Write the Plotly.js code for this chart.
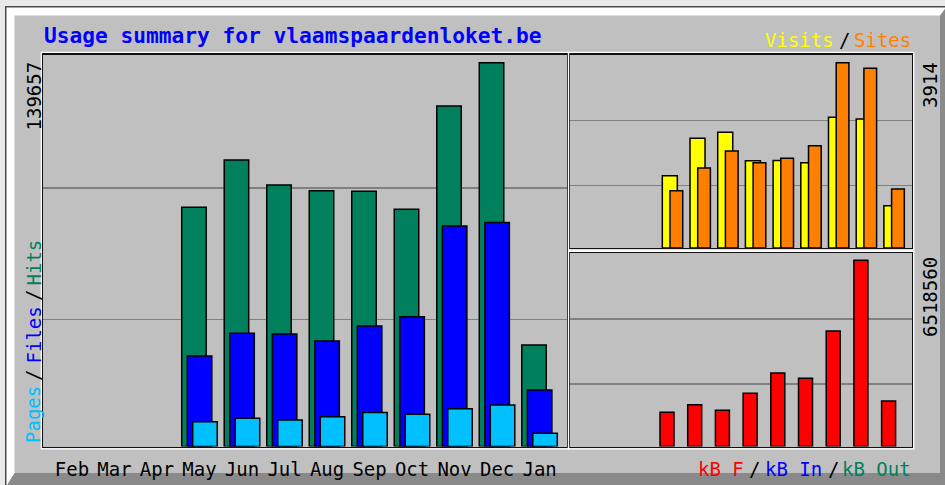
<!DOCTYPE html>
<html><head><meta charset="utf-8">
<script src="https://cdn.plot.ly/plotly-3.0.1.min.js"></script>
<style>html,body{margin:0;padding:0;background:#e9e9e9;overflow:hidden} #chart{width:945px;height:485px;}</style>
</head><body><div id="chart"></div>
<script>
// ---- data ----
const months = ['Feb','Mar','Apr','May','Jun','Jul','Aug','Sep','Oct','Nov','Dec','Jan'];
const hits   = [0,0,0,87040,104260,95160,93090,92850,86320,123910,139657,36940];
const files  = [0,0,0,32930,41190,40980,38390,43850,47230,80240,81510,20560];
const pages  = [0,0,0,9020,10260,9640,10840,12370,11720,13760,15100,4800];
const visits = [0,0,0,1527,2317,2444,1844,1850,1802,2760,2725,893];
const sites  = [0,0,0,1210,1690,2049,1802,1894,2161,3914,3795,1246];
const kbytes = [0,0,0,1195000,1461000,1265000,1859000,2569000,2384000,4037000,6518560,1590000];
const titleText = 'Usage summary for vlaamspaardenloket.be';

// ---- layout helpers ----
const W = 945, H = 485;
const px = x => x / W;
const py = y => 1 - y / H;
const FONT = 'DejaVu Sans Mono';
const C = {hits:'#00805c', files:'#0000ff', pages:'#00c0ff', visits:'#ffff00', sites:'#ff8000', kb:'#ff0000'};
const nz = arr => arr.map(v => v === 0 ? null : v);   // empty months draw no bar

const maxHits = Math.max(...hits), maxSites = Math.max(...sites, ...visits), maxKb = Math.max(...kbytes);
const R1 = maxHits * 1.0214, R2 = maxSites * 1.0442, R3 = maxKb * 1.0375;
const grid = R => [R * 0.324, R * 0.66];

const line = {color:'#000', width:1.5};
const traces = [
  {type:'bar', x:months, y:nz(hits),  xaxis:'x', yaxis:'y', width:0.576, offset:-0.419, marker:{color:C.hits, line}},
  {type:'bar', x:months, y:nz(files), xaxis:'x', yaxis:'y', width:0.576, offset:-0.287, marker:{color:C.files, line}},
  {type:'bar', x:months, y:nz(pages), xaxis:'x', yaxis:'y', width:0.576, offset:-0.160, marker:{color:C.pages, line}},
  {type:'bar', x:months, y:nz(visits), xaxis:'x2', yaxis:'y2', width:0.542, offset:-0.368, marker:{color:C.visits, line}},
  {type:'bar', x:months, y:nz(sites),  xaxis:'x2', yaxis:'y2', width:0.458, offset:-0.090, marker:{color:C.sites, line}},
  {type:'bar', x:months, y:nz(kbytes), xaxis:'x3', yaxis:'y3', width:0.505, offset:-0.451, marker:{color:C.kb, line}}
];

const xBase = {type:'category', showgrid:false, zeroline:false, ticks:'', showline:true, mirror:true, linecolor:'#111', linewidth:1.4, fixedrange:true};
const yBase = {showgrid:true, gridcolor:'#808080', gridwidth:1.5, zeroline:false, ticks:'', showticklabels:false, showline:true, mirror:true, linecolor:'#111', linewidth:1.4, fixedrange:true};

const ann = (text, x, y, color, opts) => Object.assign({text, x:px(x), y:py(y), xref:'paper', yref:'paper', showarrow:false, xanchor:'center', yanchor:'middle', font:{family:FONT, size:19, color}}, opts || {});

const annotations = [
  ann(titleText, 42, 36, '#0000ff', {xanchor:'left', font:{family:FONT, size:21.2, color:'#0000ff', weight:'bold'}}),
  ann('Visits', 799.5, 39.5, C.visits),
  ann('/', 844, 39.5, '#000'),
  ann('Sites', 882.5, 39.5, C.sites),
  ann('kB F', 720.5, 468.5, C.kb),
  ann('/', 754, 468.5, '#000'),
  ann('kB In', 793.5, 468.5, C.files),
  ann('/', 833.5, 468.5, '#000'),
  ann('kB Out', 876.5, 468.5, C.hits),
  ann(String(maxHits), 33, 60, '#000', {yanchor:'top', textangle:-90}),
  ann('Pages', 33, 415, C.pages, {textangle:-90}),
  ann('/', 33, 376, '#000', {textangle:-90}),
  ann('Files', 33, 335.5, C.files, {textangle:-90}),
  ann('/', 33, 296, '#000', {textangle:-90}),
  ann('Hits', 33, 262.5, C.hits, {textangle:-90}),
  ann(String(maxSites), 930, 60, '#000', {yanchor:'top', textangle:-90}),
  ann(String(maxKb), 930, 255, '#000', {yanchor:'top', textangle:-90})
];

const rect = (x0, y0, x1, y1, o) => Object.assign({type:'rect', xref:'paper', yref:'paper', x0:px(x0), x1:px(x1), y0:py(y1), y1:py(y0), layer:'below', line:{width:0}}, o);
const P = (x, y) => px(x) + ',' + py(y);
const white = {line:{color:'#fff', width:1.2}, layer:'above'};
const shapes = [
  rect(5, 6, 946, 486, {fillcolor:'#4a4a4a'}),
  rect(6.5, 7.5, 946, 486, {fillcolor:'#ffffff'}),
  {type:'path', xref:'paper', yref:'paper', layer:'below', line:{width:0}, fillcolor:'#8a8a8a',
   path:'M' + P(946,7.5) + ' L' + P(940,15.5) + ' L' + P(940,473) + ' L' + P(14.5,473) + ' L' + P(6.5,486) + ' L' + P(946,486) + ' Z'},
  rect(14.5, 15.5, 940, 473, {fillcolor:'#c0c0c0'}),
  rect(41.3, 52.3, 568.5, 448.8, white),
  rect(568.5, 52.3, 913.8, 250.2, white),
  rect(568.5, 251.3, 913.8, 448.8, white)
];

const layout = {
  width:W, height:H, margin:{l:0, r:0, t:0, b:0},
  paper_bgcolor:'#e9e9e9', plot_bgcolor:'#c0c0c0',
  barmode:'overlay', showlegend:false,
  xaxis: Object.assign({}, xBase, {domain:[px(43), px(566.6)], range:[-0.682, 11.635], anchor:'y', showticklabels:true, ticklabelstandoff:5, tickfont:{family:FONT, size:19, color:'#000'}}),
  yaxis: Object.assign({}, yBase, {domain:[py(446.5), py(54.5)], range:[0, R1], tickvals:grid(R1), anchor:'x'}),
  xaxis2: Object.assign({}, xBase, {domain:[px(570.4), px(912)], range:[-0.686, 11.646], anchor:'y2', showticklabels:false}),
  yaxis2: Object.assign({}, yBase, {domain:[py(248), py(54.5)], range:[0, R2], tickvals:grid(R2), anchor:'x2'}),
  xaxis3: Object.assign({}, xBase, {domain:[px(570.4), px(912)], range:[-0.686, 11.646], anchor:'y3', showticklabels:false}),
  yaxis3: Object.assign({}, yBase, {domain:[py(446.5), py(253.2)], range:[0, R3], tickvals:grid(R3), anchor:'x3'}),
  annotations, shapes
};

Plotly.newPlot('chart', traces, layout, {staticPlot:true, displayModeBar:false});
</script>
</body></html>
